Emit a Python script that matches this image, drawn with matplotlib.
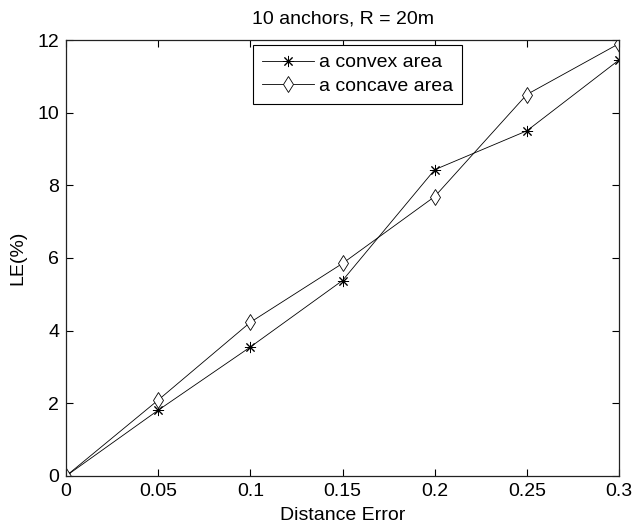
import matplotlib
matplotlib.use("Agg")
import matplotlib.pyplot as plt

# distance error levels and localization error (%)
distance_error = [0, 0.05, 0.1, 0.15, 0.2, 0.25, 0.3]
convex_le = [0.0, 1.81, 3.55, 5.38, 8.43, 9.5, 11.45]
concave_le = [0.0, 2.09, 4.23, 5.85, 7.69, 10.5, 11.9]

x_ticks = [0, 0.05, 0.1, 0.15, 0.2, 0.25, 0.3]
x_tick_labels = ["0", "0.05", "0.1", "0.15", "0.2", "0.25", "0.3"]
y_ticks = [0, 2, 4, 6, 8, 10, 12]

plt.rcParams["font.family"] = ["Liberation Sans", "DejaVu Sans"]
plt.rcParams["font.size"] = 14

fig = plt.figure(figsize=(6.33, 5.26), dpi=100)
ax = fig.add_axes([66 / 633, 50 / 526, 553 / 633, 436 / 526])

# MATLAB-style '*' is an 8-armed asterisk
ax.plot(distance_error, convex_le, color="black", linewidth=0.6,
        marker=(8, 2, 0), markersize=8, markeredgewidth=0.7, label="a convex area")
ax.plot(distance_error, concave_le, color="black", linewidth=0.6,
        marker="d", markersize=8, markerfacecolor="white", markeredgewidth=0.6,
        label="a concave area")

ax.set_xlim(0, 0.3)
ax.set_ylim(0, 12)
ax.set_xticks(x_ticks)
ax.set_xticklabels(x_tick_labels)
ax.set_yticks(y_ticks)
ax.tick_params(direction="in", length=5, width=0.8, top=True, right=True,
               colors="black", pad=5)
for spine in ax.spines.values():
    spine.set_linewidth(0.9)
    spine.set_color("#222222")

ax.set_title("10 anchors, R = 20m", fontsize=14, pad=12)
ax.set_xlabel("Distance Error", labelpad=5)
ax.set_ylabel("LE(%)", labelpad=8)

leg = ax.legend(loc="upper left", bbox_to_anchor=((253 - 66) / 553, (476 - 45) / 436),
                borderaxespad=0, fancybox=False, framealpha=1, edgecolor="black",
                handlelength=2.7, borderpad=0.45, labelspacing=0.3,
                handletextpad=0.26)
leg.get_frame().set_linewidth(0.8)

fig.savefig("out.png", dpi=100)
